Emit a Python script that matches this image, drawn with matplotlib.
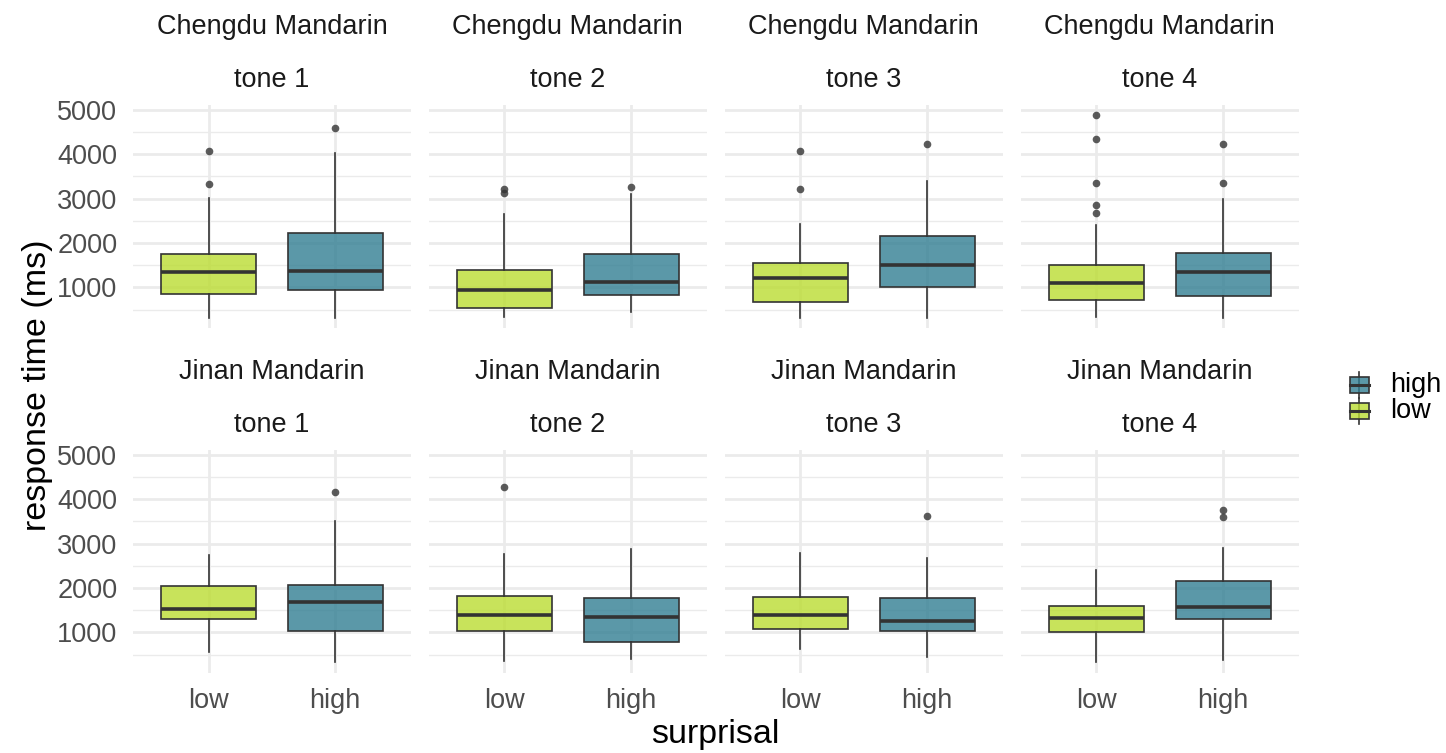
import numpy as np
import matplotlib.pyplot as plt
from matplotlib.colors import to_rgb
from matplotlib.legend_handler import HandlerBase
from matplotlib.patches import Rectangle, Patch
from matplotlib.lines import Line2D

plt.rcParams['font.family'] = ['Liberation Sans', 'DejaVu Sans']

# facets: Chengdu tone 1-4, then Jinan tone 1-4
dialects = ["Chengdu Mandarin"] * 4 + ["Jinan Mandarin"] * 4
tones = ["tone 1", "tone 2", "tone 3", "tone 4"] * 2
surprisal = ["low", "high"]

# box statistics (ms)
low_whislo = [315, 338, 315, 338, 564, 362, 632, 326]
low_q1 = [842, 527, 669, 707, 1299, 1029, 1082, 1007]
low_med = [1351, 939, 1216, 1090, 1530, 1396, 1396, 1321]
low_q3 = [1743, 1390, 1540, 1495, 2040, 1831, 1787, 1598]
low_whishi = [3018, 2651, 2426, 2396, 2753, 2775, 2798, 2400]
low_out = [[4070, 3320], [3214, 3117], [4070, 3221],
           [4881, 4333, 3342, 2860, 2673], [], [4265], [], []]

high_whislo = [315, 437, 315, 315, 326, 393, 452, 378]
high_q1 = [932, 820, 1007, 811, 1036, 782, 1036, 1299]
high_med = [1367, 1113, 1502, 1338, 1688, 1351, 1261, 1562]
high_q3 = [2230, 1750, 2162, 1779, 2079, 1771, 1771, 2160]
high_whishi = [4018, 3101, 3394, 2989, 3508, 2872, 2685, 2910]
high_out = [[4581], [3266], [4227], [4221, 3356], [4160], [], [3620], [3764, 3598]]

low_col = "#BBDC32"
high_col = "#327E92"
ALPHA = 0.8

W, H = 1446, 753
fig = plt.figure(figsize=(W / 100, H / 100), dpi=100)

lefts = [132.7, 428.5, 724.5, 1020.5]
tops = [105, 450]
pw, ph = 278.5, 223


def stats(i, grp):
    if grp == "low":
        return dict(whislo=low_whislo[i], q1=low_q1[i], med=low_med[i], q3=low_q3[i],
                    whishi=low_whishi[i], fliers=low_out[i])
    return dict(whislo=high_whislo[i], q1=high_q1[i], med=high_med[i], q3=high_q3[i],
                whishi=high_whishi[i], fliers=high_out[i])


for i in range(8):
    r, c = divmod(i, 4)
    left, top = lefts[c], tops[r]
    ax = fig.add_axes([left / W, 1 - (top + ph) / H, pw / W, ph / H])
    ax.set_facecolor("white")
    for s in ax.spines.values():
        s.set_visible(False)

    bp = ax.bxp([stats(i, "low"), stats(i, "high")], positions=[1, 2], widths=0.75,
                patch_artist=True, showcaps=False, manage_ticks=False,
                boxprops=dict(edgecolor="#333333", lw=1.2),
                whiskerprops=dict(color="#333333", lw=1.2),
                medianprops=dict(color="#333333", lw=2.6),
                flierprops=dict(marker="o", markersize=5.5, markerfacecolor="#333333",
                                markeredgecolor="none", alpha=ALPHA))
    for patch, col in zip(bp["boxes"], [low_col, high_col]):
        patch.set_facecolor((*to_rgb(col), ALPHA))

    ax.set_xlim(0.4, 2.6)
    ax.set_ylim(87, 5107)
    ax.set_yticks([1000, 2000, 3000, 4000, 5000])
    ax.set_yticks([500, 1500, 2500, 3500, 4500], minor=True)
    ax.set_xticks([1, 2])
    ax.grid(True, which="major", color="#EBEBEB", lw=2.0, zorder=0)
    ax.grid(True, which="minor", axis="y", color="#EBEBEB", lw=1.0, zorder=0)
    ax.set_axisbelow(True)
    ax.tick_params(which="both", length=0, labelsize=19.5, labelcolor="#4D4D4D")
    ax.tick_params(axis="y", pad=11)
    ax.tick_params(axis="x", pad=11)
    if c == 0:
        ax.set_yticklabels(["1000", "2000", "3000", "4000", "5000"])
    else:
        ax.set_yticklabels([])
    if r == 1:
        ax.set_xticklabels(surprisal)
    else:
        ax.set_xticklabels([])

    cx = (left + pw / 2) / W
    fig.text(cx, 1 - (top - 78) / H, dialects[i], ha="center", va="center",
             fontsize=19.5, color="#1A1A1A")
    fig.text(cx, 1 - (top - 25) / H, tones[i], ha="center", va="center",
             fontsize=19.5, color="#1A1A1A")

fig.text(38 / W, 1 - 385 / H, "response time (ms)", rotation=90, ha="center",
         va="center", fontsize=24.5)
fig.text(715 / W, 1 - 735 / H, "surprisal", ha="center", va="center", fontsize=24.5)


class BoxKey(HandlerBase):
    def create_artists(self, legend, orig, xd, yd, w, h, fontsize, trans):
        cx = xd + w / 2
        wh = Line2D([cx, cx], [yd - 0.3 * h, yd + 1.3 * h], color="#333333", lw=1.2,
                    transform=trans)
        box = Rectangle((xd, yd), w, h, facecolor=orig.get_facecolor(),
                        edgecolor="#333333", lw=1.2, transform=trans)
        med = Line2D([xd, xd + w], [yd + h / 2] * 2, color="#333333", lw=2.2,
                     transform=trans)
        return [wh, box, med]


handles = [Patch(facecolor=(*to_rgb(high_col), ALPHA)),
           Patch(facecolor=(*to_rgb(low_col), ALPHA))]
fig.legend(handles, ["high", "low"], handler_map={Patch: BoxKey()},
           loc="center left", bbox_to_anchor=(1350 / W, 1 - 398 / H), frameon=False,
           fontsize=19.5, handlelength=0.7, handleheight=0.55, handletextpad=0.8,
           labelspacing=0.0, borderaxespad=0, borderpad=0)

fig.savefig("out.png", dpi=100, facecolor="white")
